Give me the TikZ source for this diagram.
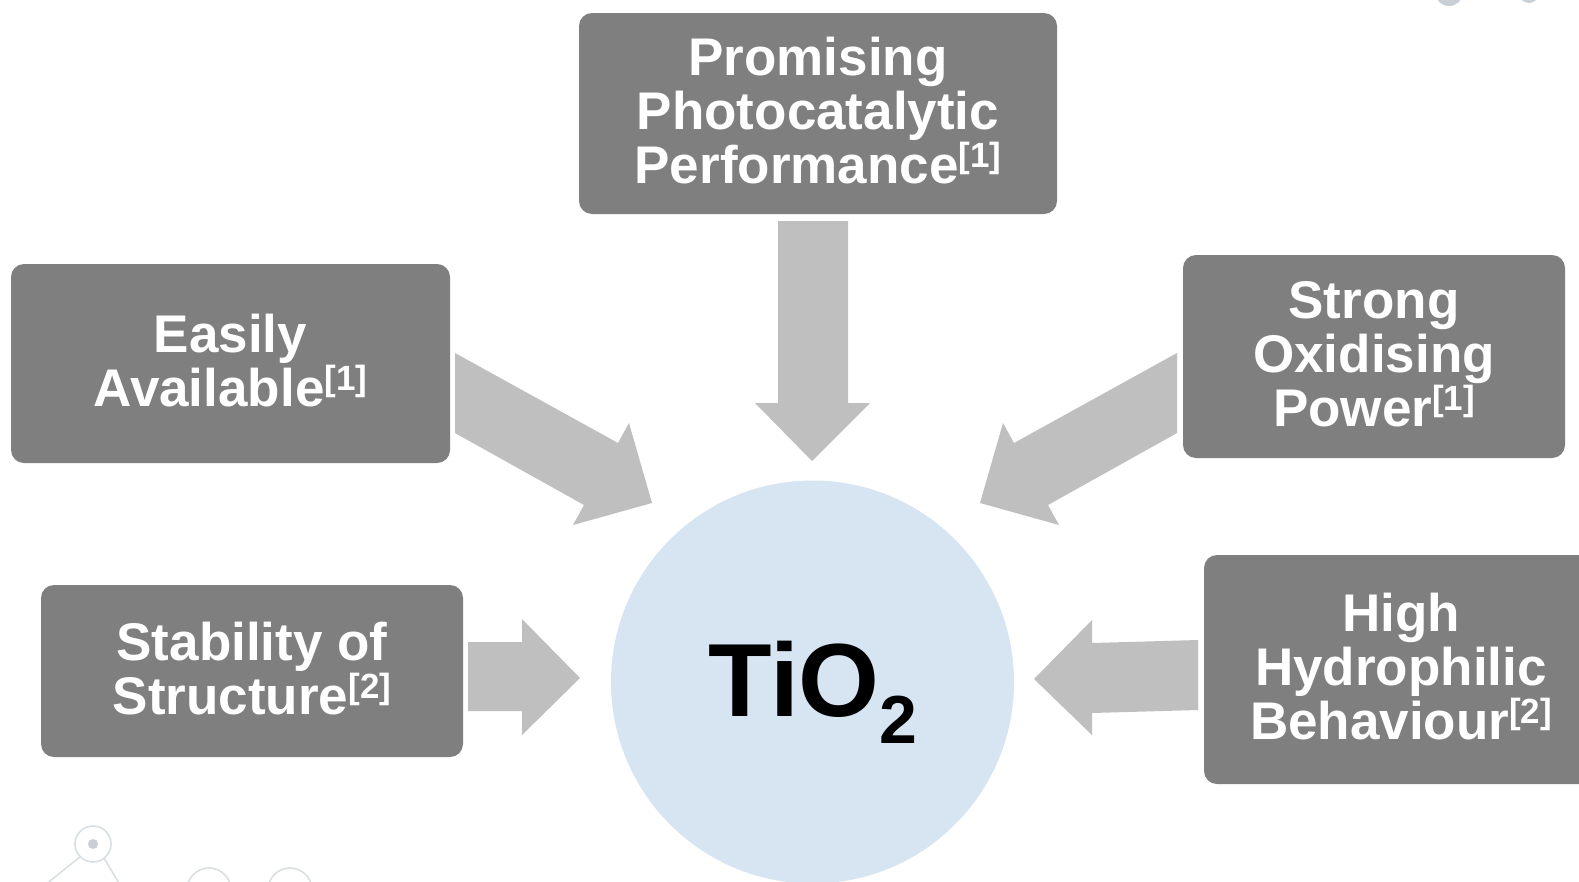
\documentclass[tikz,border=0pt]{standalone}
\usepackage{fontspec}
\setmainfont{Liberation Sans}
\definecolor{boxgray}{RGB}{127,127,127}
\definecolor{arrowgray}{RGB}{191,191,191}
\definecolor{tiblue}{RGB}{215,229,242}
\definecolor{decoline}{RGB}{218,223,228}
\definecolor{decofill}{RGB}{200,207,215}
\newcommand\supref[1]{\raisebox{16pt}{\fontsize{35}{35}\selectfont[#1]}\rule[-6pt]{0pt}{6pt}}
\begin{document}
\begin{tikzpicture}[x=1pt,y=-1pt,
  box/.style={fill=boxgray, rounded corners=13pt, inner sep=0pt, text=white,
    font=\bfseries\fontsize{53}{54}\selectfont, align=center},
  arrowshape/.style={fill=arrowgray},
  decoring/.style={draw=decoline, line width=1.6pt},
  decodot/.style={fill=decofill}]
\fill[white] (0,0) rectangle (1579,881);
\useasboundingbox (0,0) rectangle (1579,881);
% faint background decorations
\begin{scope}
\clip (0,0) rectangle (1579,881);
\coordinate (dA) at (93,844);
\draw[decoring] (dA) circle[radius=18];
\fill[decodot] (dA) circle[radius=5];
\draw[decoring] (80,857) -- (45,885);
\draw[decoring] (104,858) -- (120,885);
\draw[decoring] (209,890) circle[radius=22];
\draw[decoring] (290,890) circle[radius=22];
\fill[decodot] (1449,-8) circle[radius=14];
\fill[decodot] (1529,-7) circle[radius=10];
\end{scope}
% boxes
\node[box, minimum width=478pt, minimum height=201pt] (perf) at (818,113.5)
  {Promising\\Photocatalytic\\Performance\supref{1}};
\node[box, minimum width=439pt, minimum height=199pt] (avail) at (230.5,363.5)
  {Easily\\Available\supref{1}};
\node[box, minimum width=382pt, minimum height=203pt] (oxid) at (1374,356.5)
  {Strong\\Oxidising\\Power\supref{1}};
\node[box, minimum width=422pt, minimum height=172pt] (stab) at (252,671)
  {Stability of\\Structure\supref{2}};
\node[box, minimum width=394pt, minimum height=229pt] (hydro) at (1401,669.5)
  {High\\Hydrophilic\\Behaviour\supref{2}};
% central circle
\node[circle, fill=tiblue, minimum size=403pt, inner sep=0pt] (tio2) at (812.5,682) {};
\node[anchor=base, inner sep=0pt, font=\bfseries\fontsize{104}{104}\selectfont] (tio2text) at (813,716)
  {TiO\raisebox{-27pt}{\fontsize{68}{68}\selectfont 2}};
% block arrows
\fill[arrowshape] (778,221) -- (848,221) -- (848,403) -- (870,403) -- (812,461) -- (755,403) -- (778,403) -- cycle;
\fill[arrowshape] (455,353) -- (618,443) -- (629,423) -- (652,503) -- (573,525) -- (584,505) -- (455,433) -- cycle;
\fill[arrowshape] (1177,353) -- (1014,443) -- (1003,423) -- (980,503) -- (1059,525) -- (1048,505) -- (1177,433) -- cycle;
\fill[arrowshape] (468,642) -- (522,642) -- (522,619) -- (580,678) -- (522,735) -- (522,711) -- (468,711) -- cycle;
\fill[arrowshape] (1198,640) -- (1092,643) -- (1092,620) -- (1034,679) -- (1092,735) -- (1092,713) -- (1198,710) -- cycle;
\end{tikzpicture}
\end{document}
